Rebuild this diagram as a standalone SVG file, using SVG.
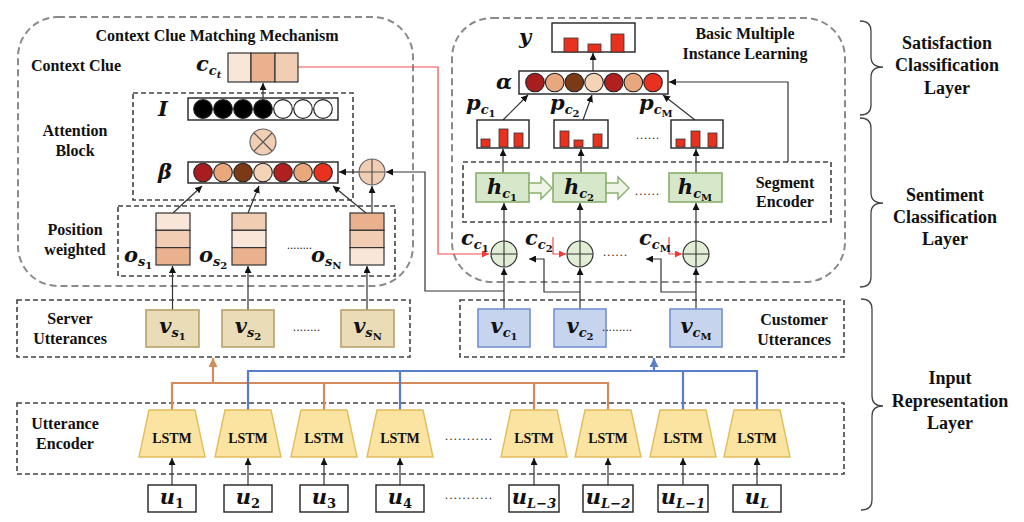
<svg xmlns="http://www.w3.org/2000/svg" width="1024" height="522" viewBox="0 0 1024 522">
<style>
.lbl{font-family:"Liberation Serif",serif;font-weight:bold;font-size:16px;fill:#111;text-anchor:middle}
.layer{font-size:18px}
.math{font-family:"DejaVu Serif",serif;font-weight:bold;font-style:italic;font-size:21px;fill:#111}
.sub{font-size:13px}
.ss{font-size:10px;font-style:normal}
.up{font-style:normal}
.outer{fill:none;stroke:#8a8a8a;stroke-width:2;stroke-dasharray:7 4}
.inner{fill:none;stroke:#444;stroke-width:1.6;stroke-dasharray:5 3}
.conn{fill:none;stroke:#333;stroke-width:1.2}
.red{fill:none;stroke:#ee4b4b;stroke-width:1.2}
.org{fill:none;stroke:#d48a5c;stroke-width:2.2}
.blu{fill:none;stroke:#5b7ec8;stroke-width:2.2}
.vec{fill:#fff;stroke:#222;stroke-width:1.4}
.c1{fill:#f8e6d8;stroke:#333;stroke-width:1.2}
.c2{fill:#e9b18d;stroke:#333;stroke-width:1.2}
.c3{fill:#f1cdb3;stroke:#333;stroke-width:1.2}
.vs{fill:#e9dcb6;stroke:#b8a068;stroke-width:1.6}
.vc{fill:#c6d4ee;stroke:#7192d2;stroke-width:1.6}
.hc{fill:#d7e7c9;stroke:#8ab06c;stroke-width:1.6}
.ha{fill:#eef5e6;stroke:#8ab06c;stroke-width:1.4}
.lstm{fill:#fbe3a2;stroke:#e3bc5a;stroke-width:1.4}
.lt{font-family:"Liberation Serif",serif;font-weight:bold;font-size:14px;fill:#111;text-anchor:middle}
.box{fill:#fff;stroke:#222;stroke-width:1.4}
.bar{fill:#e8321f;stroke:#333;stroke-width:0.8}
.opg{fill:#e2edd6;stroke:#333;stroke-width:1.2}
.opo{fill:#f1cdb3;stroke:#666;stroke-width:1.2}
.dots{font-family:"Liberation Serif",serif;font-size:12px;fill:#222}
.brace{fill:none;stroke:#444;stroke-width:1.3}
</style>
<defs>
<marker id="ah" viewBox="0 0 8 8" refX="8" refY="4" markerWidth="7" markerHeight="7" markerUnits="userSpaceOnUse" orient="auto"><path d="M0,0 L8,4 L0,8 z" fill="#111"/></marker>
<marker id="ahr" viewBox="0 0 8 8" refX="8" refY="4" markerWidth="7" markerHeight="7" markerUnits="userSpaceOnUse" orient="auto"><path d="M0,0 L8,4 L0,8 z" fill="#ee3b3b"/></marker>
<marker id="aho" viewBox="0 0 8 8" refX="8" refY="4" markerWidth="9" markerHeight="9" markerUnits="userSpaceOnUse" orient="auto"><path d="M0,0 L8,4 L0,8 z" fill="#d48a5c"/></marker>
<marker id="ahb" viewBox="0 0 8 8" refX="8" refY="4" markerWidth="9" markerHeight="9" markerUnits="userSpaceOnUse" orient="auto"><path d="M0,0 L8,4 L0,8 z" fill="#5b7ec8"/></marker>
</defs>
<rect width="1024" height="522" fill="#fff"/>

<!-- group boxes -->
<g id="context-clue-matching">
<rect class="outer" x="18" y="17" width="395" height="269" rx="40"/>
<text class="lbl" x="217" y="41">Context Clue Matching Mechanism</text>
<text class="lbl" x="76" y="71">Context Clue</text>
</g>
<g id="attention-block">
<rect class="inner" x="133" y="93" width="220" height="107"/>
<text class="lbl" x="75" y="136">Attention</text>
<text class="lbl" x="75" y="156">Block</text>
</g>
<g id="position-weighted">
<rect class="inner" x="118" y="206" width="277" height="70"/>
<text class="lbl" x="75" y="235">Position</text>
<text class="lbl" x="75" y="255">weighted</text>
</g>
<g id="basic-mil">
<rect class="outer" x="452" y="18" width="393" height="264" rx="40"/>
<text class="lbl" x="745" y="39">Basic Multiple</text>
<text class="lbl" x="745" y="59">Instance Learning</text>
</g>
<g id="segment-encoder">
<rect class="inner" x="463" y="162" width="368" height="60"/>
<text class="lbl" x="785" y="188">Segment</text>
<text class="lbl" x="785" y="207">Encoder</text>
</g>
<g id="server-utterances">
<rect class="inner" x="17" y="300" width="393" height="57"/>
<text class="lbl" x="70" y="324">Server</text>
<text class="lbl" x="70" y="344">Utterances</text>
</g>
<g id="customer-utterances">
<rect class="inner" x="460" y="300" width="384" height="57"/>
<text class="lbl" x="794" y="325">Customer</text>
<text class="lbl" x="794" y="345">Utterances</text>
</g>
<g id="utterance-encoder">
<rect class="inner" x="17" y="403" width="827" height="71"/>
<text class="lbl" x="65" y="429">Utterance</text>
<text class="lbl" x="65" y="449">Encoder</text>
</g>

<!-- connectors -->
<g id="connectors">
<path class="red" d="M298,67 H438 V254 H489" marker-end="url(#ahr)"/>
<path class="red" d="M553,237 V254 H566" marker-end="url(#ahr)"/>
<path class="red" d="M669,237 V254 H682" marker-end="url(#ahr)"/>
<path class="conn" d="M263,98 V83" marker-end="url(#ah)"/>
<path class="conn" d="M173,213 L202,186" marker-end="url(#ah)"/>
<path class="conn" d="M248,213 L259,186" marker-end="url(#ah)"/>
<path class="conn" d="M366,213 L333,186" marker-end="url(#ah)"/>
<path class="conn" d="M372,213 V186" marker-end="url(#ah)"/>
<path class="conn" d="M359,172 H339" marker-end="url(#ah)"/>
<path class="conn" d="M504,291 H425 V172 H386" marker-end="url(#ah)"/>
<path class="conn" d="M172.5,311 V266" marker-end="url(#ah)"/>
<path class="conn" d="M248,311 V266" marker-end="url(#ah)"/>
<path class="conn" d="M367,311 V266" marker-end="url(#ah)"/>
<path class="conn" d="M504,309 V268" marker-end="url(#ah)"/>
<path class="conn" d="M580,309 V268" marker-end="url(#ah)"/>
<path class="conn" d="M696,309 V268" marker-end="url(#ah)"/>
<path class="conn" d="M580,292 H544 V259 H529" marker-end="url(#ah)"/>
<path class="conn" d="M696,292 H661 V259 H646" marker-end="url(#ah)"/>
<path class="conn" d="M504,241 V203" marker-end="url(#ah)"/>
<path class="conn" d="M580,241 V203" marker-end="url(#ah)"/>
<path class="conn" d="M696,241 V203" marker-end="url(#ah)"/>
<path class="conn" d="M503,173 V149" marker-end="url(#ah)"/>
<path class="conn" d="M581,173 V149" marker-end="url(#ah)"/>
<path class="conn" d="M696,173 V149" marker-end="url(#ah)"/>
<path class="conn" d="M503,120 L528,95" marker-end="url(#ah)"/>
<path class="conn" d="M583,120 L592,95" marker-end="url(#ah)"/>
<path class="conn" d="M695,120 L663,95" marker-end="url(#ah)"/>
<path class="conn" d="M788,162 V82 H669" marker-end="url(#ah)"/>
<path class="conn" d="M593,71 V53" marker-end="url(#ah)"/>
<path class="org" d="M172,410 V383 H608 V410 M324,383 V410 M534,383 V410"/>
<path class="org" d="M213,383 V358" marker-end="url(#aho)"/>
<path class="blu" d="M248,410 V371 H757 V410 M400,371 V410 M683,371 V410"/>
<path class="blu" d="M654,371 V358" marker-end="url(#ahb)"/>
<path class="conn" d="M172,485 V458" marker-end="url(#ah)"/>
<path class="conn" d="M248,485 V458" marker-end="url(#ah)"/>
<path class="conn" d="M324,485 V458" marker-end="url(#ah)"/>
<path class="conn" d="M400,485 V458" marker-end="url(#ah)"/>
<path class="conn" d="M534,485 V458" marker-end="url(#ah)"/>
<path class="conn" d="M608,485 V458" marker-end="url(#ah)"/>
<path class="conn" d="M683,485 V458" marker-end="url(#ah)"/>
<path class="conn" d="M757,485 V458" marker-end="url(#ah)"/>
</g>

<!-- context clue vector -->
<g id="context-clue">
<rect class="c1" x="228" y="53" width="23" height="29"/>
<rect class="c2" x="251" y="53" width="24" height="29"/>
<rect class="c3" x="275" y="53" width="23" height="29"/>
<text class="math" x="196" y="71">c<tspan class="sub" dy="4">c</tspan><tspan class="ss" dy="3" style="font-style:italic">t</tspan></text>
</g>
<g id="indicator-I">
<rect class="vec" x="188" y="98" width="150" height="22"/>
<g stroke="#222" stroke-width="1.2">
<circle cx="203" cy="109" r="9.3" fill="#000"/><circle cx="223" cy="109" r="9.3" fill="#000"/><circle cx="243" cy="109" r="9.3" fill="#000"/><circle cx="263" cy="109" r="9.3" fill="#000"/><circle cx="283" cy="109" r="9.3" fill="#fff"/><circle cx="303" cy="109" r="9.3" fill="#fff"/><circle cx="323" cy="109" r="9.3" fill="#fff"/>
</g>
<text class="math" x="158" y="116">I</text>
</g>
<g id="multiply">
<circle class="opo" cx="263" cy="142" r="13"/>
<path d="M254,133 L272,151 M272,133 L254,151" stroke="#555" stroke-width="1.2"/>
</g>
<g id="beta">
<rect class="vec" x="188" y="162" width="150" height="21"/>
<g stroke="#222" stroke-width="1.1">
<circle cx="203" cy="172.5" r="9.3" fill="#a81e1e"/><circle cx="223" cy="172.5" r="9.3" fill="#e9a77e"/><circle cx="243" cy="172.5" r="9.3" fill="#7b3916"/><circle cx="263" cy="172.5" r="9.3" fill="#f4d3b6"/><circle cx="283" cy="172.5" r="9.3" fill="#b21f1f"/><circle cx="303" cy="172.5" r="9.3" fill="#e9a77e"/><circle cx="323" cy="172.5" r="9.3" fill="#e8321f"/>
</g>
<text class="math" x="158" y="179">β</text>
</g>
<g id="add-server">
<circle class="opo" cx="372" cy="172" r="13"/>
<path d="M359,172 H385 M372,159 V185" stroke="#555" stroke-width="1.2"/>
</g>
<g id="o-s1">
<rect class="c1" x="156" y="213" width="34" height="17.3"/><rect class="c3" x="156" y="230.3" width="34" height="17.3"/><rect class="c2" x="156" y="247.6" width="34" height="17.4"/>
<text class="math" x="124" y="262">o<tspan class="sub" dy="4">s</tspan><tspan class="ss" dy="3">1</tspan></text>
</g>
<g id="o-s2">
<rect class="c3" x="232" y="213" width="34" height="17.3"/><rect class="c1" x="232" y="230.3" width="34" height="17.3"/><rect class="c2" x="232" y="247.6" width="34" height="17.4"/>
<text class="math" x="199" y="262">o<tspan class="sub" dy="4">s</tspan><tspan class="ss" dy="3">2</tspan></text>
</g>
<text class="dots" x="287" y="249" textLength="25" lengthAdjust="spacing">........</text>
<g id="o-sN">
<rect class="c2" x="350" y="213" width="34" height="17.3"/><rect class="c3" x="350" y="230.3" width="34" height="17.3"/><rect class="c1" x="350" y="247.6" width="34" height="17.4"/>
<text class="math" x="311" y="262">o<tspan class="sub" dy="4">s</tspan><tspan class="ss" dy="3">N</tspan></text>
</g>

<!-- MIL -->
<g id="output-y">
<rect class="box" x="552" y="23" width="83" height="29"/>
<rect class="bar" x="564" y="38" width="14" height="14"/>
<rect class="bar" x="588" y="44" width="13" height="8"/>
<rect class="bar" x="611" y="34" width="13" height="18"/>
<text class="math" x="519" y="44">y</text>
</g>
<g id="alpha">
<rect class="vec" x="519" y="71" width="149" height="23"/>
<g stroke="#222" stroke-width="1.1">
<circle cx="535" cy="82.5" r="9.3" fill="#a81e1e"/><circle cx="554.7" cy="82.5" r="9.3" fill="#e9a77e"/><circle cx="574.3" cy="82.5" r="9.3" fill="#7b3916"/><circle cx="594" cy="82.5" r="9.3" fill="#f4d3b6"/><circle cx="613.7" cy="82.5" r="9.3" fill="#b21f1f"/><circle cx="633.3" cy="82.5" r="9.3" fill="#e9a77e"/><circle cx="653" cy="82.5" r="9.3" fill="#e8321f"/>
</g>
<text class="math" x="496" y="89">α</text>
</g>
<g id="p-c1">
<rect class="box" x="477" y="120" width="52" height="28"/>
<rect class="bar" x="481" y="139" width="9" height="8"/><rect class="bar" x="499" y="129" width="9" height="18"/><rect class="bar" x="514" y="133" width="9" height="14"/>
<text class="math" x="466" y="110">p<tspan class="sub" dy="4">c</tspan><tspan class="ss" dy="3">1</tspan></text>
</g>
<g id="p-c2">
<rect class="box" x="554" y="120" width="54" height="28"/>
<rect class="bar" x="560" y="131" width="9" height="16"/><rect class="bar" x="574" y="140" width="9" height="7"/><rect class="bar" x="593" y="134" width="9" height="13"/>
<text class="math" x="550" y="110">p<tspan class="sub" dy="4">c</tspan><tspan class="ss" dy="3">2</tspan></text>
</g>
<text class="dots" x="636" y="139" textLength="23" lengthAdjust="spacing">......</text>
<g id="p-cM">
<rect class="box" x="671" y="120" width="52" height="28"/>
<rect class="bar" x="676" y="139" width="9" height="8"/><rect class="bar" x="691" y="131" width="9" height="16"/><rect class="bar" x="708" y="133" width="9" height="14"/>
<text class="math" x="639" y="110">p<tspan class="sub" dy="4">c</tspan><tspan class="ss" dy="3">M</tspan></text>
</g>
<g id="h-c1">
<rect class="hc" x="476" y="173" width="53" height="29"/>
<path class="ha" d="M529,183 H541 V177 L552,188 L541,199 V193 H529 Z"/>
<text class="math" x="502" y="194" text-anchor="middle">h<tspan class="sub" dy="4">c</tspan><tspan class="ss" dy="3">1</tspan></text>
</g>
<g id="h-c2">
<rect class="hc" x="553" y="173" width="53" height="29"/>
<path class="ha" d="M606,183 H618 V177 L629,188 L618,199 V193 H606 Z"/>
<text class="math" x="579" y="194" text-anchor="middle">h<tspan class="sub" dy="4">c</tspan><tspan class="ss" dy="3">2</tspan></text>
</g>
<text class="dots" x="635" y="195" textLength="24" lengthAdjust="spacing">......</text>
<g id="h-cM">
<rect class="hc" x="669" y="173" width="53" height="29"/>
<text class="math" x="695" y="194" text-anchor="middle">h<tspan class="sub" dy="4">c</tspan><tspan class="ss" dy="3">M</tspan></text>
</g>
<g id="add-c1">
<circle class="opg" cx="504" cy="254" r="13"/>
<path d="M491,254 H517 M504,241 V267" stroke="#333" stroke-width="1.1"/>
<text class="math" x="461" y="245">c<tspan class="sub" dy="4">c</tspan><tspan class="ss" dy="3">1</tspan></text>
</g>
<g id="add-c2">
<circle class="opg" cx="580" cy="254" r="13"/>
<path d="M567,254 H593 M580,241 V267" stroke="#333" stroke-width="1.1"/>
<text class="math" x="525" y="245">c<tspan class="sub" dy="4">c</tspan><tspan class="ss" dy="3">2</tspan></text>
</g>
<text class="dots" x="603" y="256" textLength="24" lengthAdjust="spacing">......</text>
<g id="add-cM">
<circle class="opg" cx="696" cy="254" r="13"/>
<path d="M683,254 H709 M696,241 V267" stroke="#333" stroke-width="1.1"/>
<text class="math" x="639" y="245">c<tspan class="sub" dy="4">c</tspan><tspan class="ss" dy="3">M</tspan></text>
</g>

<!-- utterance vectors -->
<g id="v-s1"><rect class="vs" x="146" y="310" width="53" height="37"/><text class="math" x="172.5" y="333" text-anchor="middle">v<tspan class="sub" dy="4">s</tspan><tspan class="ss" dy="3">1</tspan></text></g>
<g id="v-s2"><rect class="vs" x="222" y="310" width="52" height="37"/><text class="math" x="248" y="333" text-anchor="middle">v<tspan class="sub" dy="4">s</tspan><tspan class="ss" dy="3">2</tspan></text></g>
<text class="dots" x="293" y="331" textLength="27" lengthAdjust="spacing">........</text>
<g id="v-sN"><rect class="vs" x="341" y="310" width="53" height="37"/><text class="math" x="367.5" y="333" text-anchor="middle">v<tspan class="sub" dy="4">s</tspan><tspan class="ss" dy="3">N</tspan></text></g>
<g id="v-c1"><rect class="vc" x="478" y="309" width="52" height="38"/><text class="math" x="504" y="333" text-anchor="middle">v<tspan class="sub" dy="4">c</tspan><tspan class="ss" dy="3">1</tspan></text></g>
<g id="v-c2"><rect class="vc" x="554" y="309" width="52" height="38"/><text class="math" x="580" y="333" text-anchor="middle">v<tspan class="sub" dy="4">c</tspan><tspan class="ss" dy="3">2</tspan></text></g>
<text class="dots" x="602" y="331" textLength="30" lengthAdjust="spacing">.........</text>
<g id="v-cM"><rect class="vc" x="670" y="309" width="52" height="38"/><text class="math" x="696" y="333" text-anchor="middle">v<tspan class="sub" dy="4">c</tspan><tspan class="ss" dy="3">M</tspan></text></g>

<!-- LSTMs -->
<g id="lstm-1"><polygon class="lstm" points="149,410 195,410 205,457 139,457"/><text class="lt" x="172" y="443">LSTM</text></g>
<g id="lstm-2"><polygon class="lstm" points="225,410 271,410 281,457 215,457"/><text class="lt" x="248" y="443">LSTM</text></g>
<g id="lstm-3"><polygon class="lstm" points="301,410 347,410 357,457 291,457"/><text class="lt" x="324" y="443">LSTM</text></g>
<g id="lstm-4"><polygon class="lstm" points="377,410 423,410 433,457 367,457"/><text class="lt" x="400" y="443">LSTM</text></g>
<text class="dots" x="445" y="440" textLength="47" lengthAdjust="spacing">...........</text>
<g id="lstm-L3"><polygon class="lstm" points="511,410 557,410 567,457 501,457"/><text class="lt" x="534" y="443">LSTM</text></g>
<g id="lstm-L2"><polygon class="lstm" points="585,410 631,410 641,457 575,457"/><text class="lt" x="608" y="443">LSTM</text></g>
<g id="lstm-L1"><polygon class="lstm" points="660,410 706,410 716,457 650,457"/><text class="lt" x="683" y="443">LSTM</text></g>
<g id="lstm-L"><polygon class="lstm" points="734,410 780,410 790,457 724,457"/><text class="lt" x="757" y="443">LSTM</text></g>

<!-- inputs -->
<g id="u-1"><rect class="box" x="148" y="485" width="48" height="27"/><text class="math" x="172" y="504" text-anchor="middle">u<tspan class="sub up" dy="4">1</tspan></text></g>
<g id="u-2"><rect class="box" x="224" y="485" width="48" height="27"/><text class="math" x="248" y="504" text-anchor="middle">u<tspan class="sub up" dy="4">2</tspan></text></g>
<g id="u-3"><rect class="box" x="300" y="485" width="48" height="27"/><text class="math" x="324" y="504" text-anchor="middle">u<tspan class="sub up" dy="4">3</tspan></text></g>
<g id="u-4"><rect class="box" x="376" y="485" width="48" height="27"/><text class="math" x="400" y="504" text-anchor="middle">u<tspan class="sub up" dy="4">4</tspan></text></g>
<text class="dots" x="445" y="499" textLength="47" lengthAdjust="spacing">...........</text>
<g id="u-L3"><rect class="box" x="509" y="485" width="50" height="27"/><text class="math" x="534" y="504" text-anchor="middle">u<tspan class="sub" dy="4">L−3</tspan></text></g>
<g id="u-L2"><rect class="box" x="583" y="485" width="50" height="27"/><text class="math" x="608" y="504" text-anchor="middle">u<tspan class="sub" dy="4">L−2</tspan></text></g>
<g id="u-L1"><rect class="box" x="658" y="485" width="50" height="27"/><text class="math" x="683" y="504" text-anchor="middle">u<tspan class="sub" dy="4">L−1</tspan></text></g>
<g id="u-L"><rect class="box" x="733" y="485" width="48" height="27"/><text class="math" x="757" y="504" text-anchor="middle">u<tspan class="sub" dy="4">L</tspan></text></g>

<!-- layer braces -->
<g id="layer-satisfaction">
<path class="brace" d="M860,21 Q871,21 871,31 V57 Q871,67 883,67 Q871,67 871,77 V105 Q871,115 860,115"/>
<text class="lbl layer" x="947" y="49">Satisfaction</text>
<text class="lbl layer" x="947" y="71">Classification</text>
<text class="lbl layer" x="947" y="94">Layer</text>
</g>
<g id="layer-sentiment">
<path class="brace" d="M860,118 Q871,118 871,128 V193 Q871,203 883,203 Q871,203 871,213 V277 Q871,287 860,287"/>
<text class="lbl layer" x="945" y="201">Sentiment</text>
<text class="lbl layer" x="945" y="223">Classification</text>
<text class="lbl layer" x="945" y="245">Layer</text>
</g>
<g id="layer-input">
<path class="brace" d="M861,299 Q872,299 872,309 V396 Q872,406 883,406 Q872,406 872,416 V500 Q872,510 861,510"/>
<text class="lbl layer" x="950" y="384">Input</text>
<text class="lbl layer" x="950" y="407">Representation</text>
<text class="lbl layer" x="950" y="429">Layer</text>
</g>
</svg>
